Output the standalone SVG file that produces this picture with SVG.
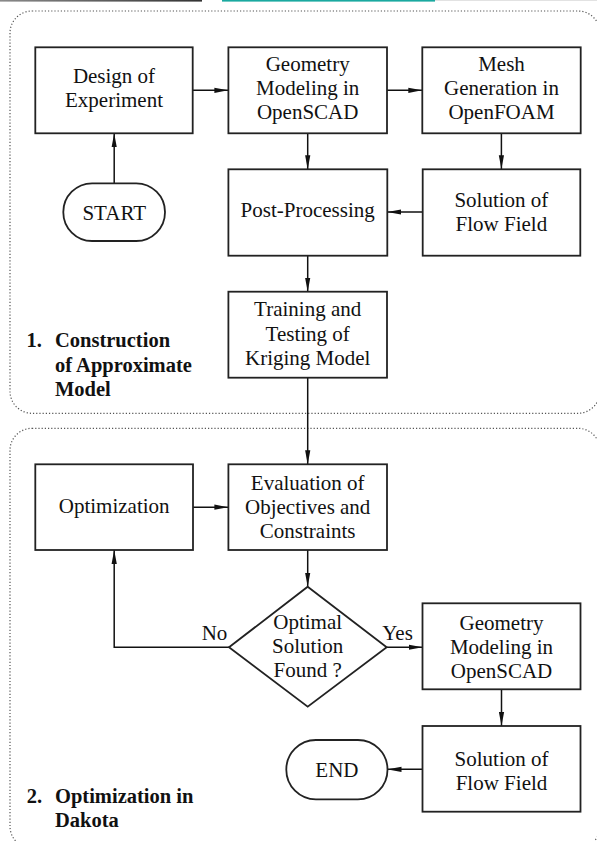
<svg xmlns="http://www.w3.org/2000/svg" width="597" height="841" viewBox="0 0 597 841">
<defs>
<linearGradient id="topbar" x1="0" y1="0" x2="1" y2="0">
<stop offset="0" stop-color="#8a8a8a"/>
<stop offset="1" stop-color="#333"/>
</linearGradient>
<marker id="arr" markerUnits="userSpaceOnUse" viewBox="0 0 14 6" refX="14" refY="3" markerWidth="14" markerHeight="6" orient="auto">
<path d="M0,0.4 L14,3 L0,5.6 z" fill="#111"/>
</marker>
</defs>
<style>
.box{fill:#fff;stroke:#222;stroke-width:1.8}
.sec{fill:none;stroke:#555;stroke-width:1.2;stroke-dasharray:1.2 2}
.t{font-family:"Liberation Serif","Times New Roman",serif;font-size:21px;fill:#111;text-anchor:middle}
.lbl{font-family:"Liberation Serif","Times New Roman",serif;font-size:21px;fill:#111}
.b{font-family:"Liberation Serif","Times New Roman",serif;font-size:20.5px;font-weight:bold;fill:#111}
.c{fill:none;stroke:#111;stroke-width:1.5}
</style>
<rect x="0" y="0" width="597" height="841" fill="#fff"/>
<rect x="0" y="0" width="202" height="1.6" fill="url(#topbar)"/>
<rect x="222" y="0" width="213" height="1.6" fill="#1aa9a0"/>
<rect x="435" y="0" width="162" height="1" fill="#e2e2e2"/>

<g id="sections">
<rect class="sec" x="10" y="11" width="590" height="402.3" rx="22" ry="22"/>
<rect class="sec" x="10" y="428.3" width="590" height="420" rx="22" ry="22"/>
<text class="b" y="347.3"><tspan x="26.6">1.</tspan><tspan x="55">Construction</tspan></text>
<text class="b" x="55" y="371.7">of Approximate</text>
<text class="b" x="55" y="396.3">Model</text>
<text class="b" y="803.3"><tspan x="26.7">2.</tspan><tspan x="55">Optimization in</tspan></text>
<text class="b" x="55" y="827.3">Dakota</text>
</g>

<g id="connectors">
<line class="c" x1="193" y1="90.3" x2="228.4" y2="90.3" marker-end="url(#arr)"/>
<line class="c" x1="387" y1="90.3" x2="422.3" y2="90.3" marker-end="url(#arr)"/>
<line class="c" x1="114.2" y1="183.3" x2="114.2" y2="133.3" marker-end="url(#arr)"/>
<line class="c" x1="307.7" y1="133.3" x2="307.7" y2="169.3" marker-end="url(#arr)"/>
<line class="c" x1="501.4" y1="133.3" x2="501.4" y2="169.3" marker-end="url(#arr)"/>
<line class="c" x1="422.7" y1="212" x2="387.3" y2="212" marker-end="url(#arr)"/>
<line class="c" x1="307.7" y1="255.7" x2="307.7" y2="291.7" marker-end="url(#arr)"/>
<line class="c" x1="307.7" y1="377.7" x2="307.7" y2="464.3" marker-end="url(#arr)"/>
<line class="c" x1="193" y1="507.2" x2="228.4" y2="507.2" marker-end="url(#arr)"/>
<line class="c" x1="307.7" y1="550" x2="307.7" y2="586.7" marker-end="url(#arr)"/>
<polyline class="c" points="229,647.3 114.2,647.3 114.2,550" marker-end="url(#arr)"/>
<line class="c" x1="386.7" y1="647.3" x2="422.5" y2="647.3" marker-end="url(#arr)"/>
<line class="c" x1="501.5" y1="689.3" x2="501.5" y2="726" marker-end="url(#arr)"/>
<line class="c" x1="422.5" y1="769.3" x2="387.5" y2="769.3" marker-end="url(#arr)"/>
<text class="lbl" x="201.7" y="640">No</text>
<text class="lbl" x="382.3" y="640">Yes</text>
</g>

<g id="design">
<rect class="box" x="35.3" y="47.3" width="157.4" height="86"/>
<text class="t" x="114" y="83.3">Design of</text>
<text class="t" x="114" y="107.3">Experiment</text>
</g>
<g id="geometry1">
<rect class="box" x="228.4" y="47.3" width="158.6" height="86"/>
<text class="t" x="307.7" y="71">Geometry</text>
<text class="t" x="307.7" y="95">Modeling in</text>
<text class="t" x="307.7" y="119">OpenSCAD</text>
</g>
<g id="mesh">
<rect class="box" x="422.3" y="47.3" width="158.4" height="86"/>
<text class="t" x="501.5" y="71">Mesh</text>
<text class="t" x="501.5" y="95">Generation in</text>
<text class="t" x="501.5" y="119">OpenFOAM</text>
</g>
<g id="start">
<rect class="box" x="63.3" y="183.3" width="101.7" height="57.7" rx="28.8" ry="28.8"/>
<text class="t" x="114.2" y="219.5">START</text>
</g>
<g id="post">
<rect class="box" x="228.4" y="169.3" width="158.9" height="86.4"/>
<text class="t" x="307.7" y="217.3">Post-Processing</text>
</g>
<g id="solution1">
<rect class="box" x="422.7" y="169.3" width="157.6" height="86.4"/>
<text class="t" x="501.4" y="207.3">Solution of</text>
<text class="t" x="501.4" y="231.3">Flow Field</text>
</g>
<g id="training">
<rect class="box" x="228.4" y="291.7" width="158.6" height="86"/>
<text class="t" x="307.7" y="316">Training and</text>
<text class="t" x="307.7" y="340.5">Testing of</text>
<text class="t" x="307.7" y="365">Kriging Model</text>
</g>
<g id="optimization">
<rect class="box" x="35.3" y="464.3" width="157.7" height="85.7"/>
<text class="t" x="114.2" y="512.7">Optimization</text>
</g>
<g id="evaluation">
<rect class="box" x="228.4" y="464.3" width="158.6" height="85.7"/>
<text class="t" x="307.7" y="490">Evaluation of</text>
<text class="t" x="307.7" y="514">Objectives and</text>
<text class="t" x="307.7" y="538.3">Constraints</text>
</g>
<g id="decision">
<polygon class="box" points="307.7,586.7 386.7,647.3 307.7,706.7 229,647.3"/>
<text class="t" x="307.7" y="629.3">Optimal</text>
<text class="t" x="307.7" y="653.3">Solution</text>
<text class="t" x="307.7" y="677.3">Found ?</text>
</g>
<g id="geometry2">
<rect class="box" x="422.5" y="603.3" width="158" height="86"/>
<text class="t" x="501.5" y="630">Geometry</text>
<text class="t" x="501.5" y="654">Modeling in</text>
<text class="t" x="501.5" y="678">OpenSCAD</text>
</g>
<g id="solution2">
<rect class="box" x="422.5" y="726" width="158" height="85.7"/>
<text class="t" x="501.5" y="765.7">Solution of</text>
<text class="t" x="501.5" y="789.5">Flow Field</text>
</g>
<g id="end">
<rect class="box" x="286.3" y="740" width="101.2" height="59.3" rx="29.6" ry="29.6"/>
<text class="t" x="336.9" y="776.7">END</text>
</g>
</svg>
